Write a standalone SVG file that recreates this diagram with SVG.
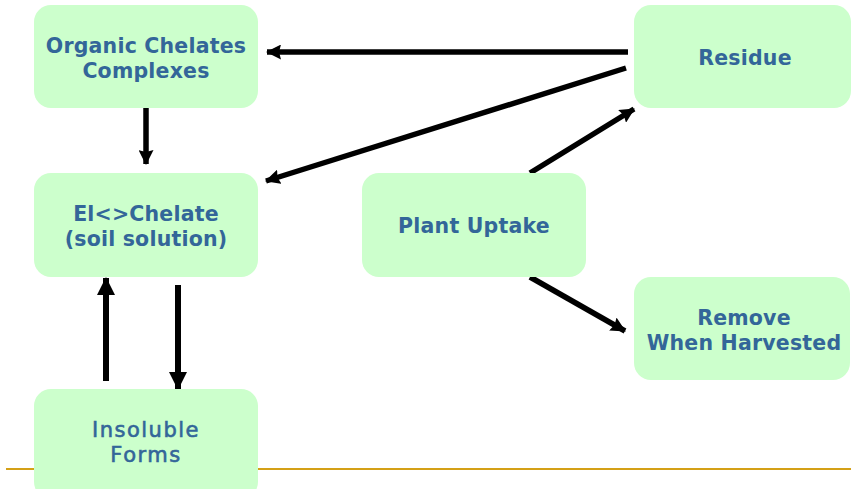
<svg xmlns="http://www.w3.org/2000/svg" width="851" height="489" viewBox="0 0 851 489">
<style>
.box{fill:#ccffcc;}
.t{font-family:"DejaVu Sans",Verdana,sans-serif;font-weight:bold;font-size:20.5px;letter-spacing:0.2px;fill:#336699;text-anchor:middle;}
.tc{font-family:"DejaVu Sans",Verdana,sans-serif;font-weight:normal;font-size:21px;letter-spacing:1.5px;fill:#336699;stroke:#336699;stroke-width:0.6;text-anchor:middle;}
.c{stroke:#000;stroke-width:5.5;fill:none;marker-end:url(#ah);}
.cb{stroke:#000;stroke-width:6;fill:none;marker-end:url(#ahb);}
</style>
<defs>
<marker id="ah" markerUnits="userSpaceOnUse" markerWidth="15" markerHeight="15" refX="14" refY="7.5" orient="auto">
<path d="M0,0 L15,7.5 L0,15 L2,7.5 Z" fill="#000"/>
</marker>
<marker id="ahb" markerUnits="userSpaceOnUse" markerWidth="18" markerHeight="18" refX="17" refY="9" orient="auto">
<path d="M0,0 L18,9 L0,18 Z" fill="#000"/>
</marker>
</defs>
<rect width="851" height="489" fill="#fff"/>
<line x1="6" y1="469" x2="851" y2="469" stroke="#d4a017" stroke-width="2"/>
<g id="connectors">
<line class="c" x1="628" y1="52" x2="267" y2="52"/>
<line class="c" x1="626" y1="68" x2="266" y2="181"/>
<line class="c" x1="530" y1="173" x2="634" y2="109"/>
<line class="c" x1="530" y1="277" x2="625" y2="331"/>
<line class="c" x1="146" y1="107" x2="146" y2="164"/>
<line class="cb" x1="106" y1="381" x2="106" y2="278"/>
<line class="cb" x1="178" y1="285" x2="178" y2="389"/>
</g>
<g id="organic">
<rect class="box" x="34" y="5" width="224" height="103" rx="17"/>
<text class="t" x="146" y="53">Organic Chelates</text>
<text class="t" x="146" y="78">Complexes</text>
</g>
<g id="residue">
<rect class="box" x="634" y="5" width="217" height="103" rx="17"/>
<text class="t" x="745" y="65">Residue</text>
</g>
<g id="el-chelate">
<rect class="box" x="34" y="173" width="224" height="104" rx="17"/>
<text class="t" x="146" y="221">El&lt;&gt;Chelate</text>
<text class="t" x="146" y="246">(soil solution)</text>
</g>
<g id="plant-uptake">
<rect class="box" x="362" y="173" width="224" height="104" rx="17"/>
<text class="t" x="474" y="233">Plant Uptake</text>
</g>
<g id="remove">
<rect class="box" x="634" y="277" width="216" height="103" rx="17"/>
<text class="t" x="744" y="325">Remove</text>
<text class="t" x="744" y="350">When Harvested</text>
</g>
<g id="insoluble">
<rect class="box" x="34" y="389" width="224" height="110" rx="17"/>
<text class="tc" x="146" y="437">Insoluble</text>
<text class="tc" x="146" y="462">Forms</text>
</g>
</svg>
